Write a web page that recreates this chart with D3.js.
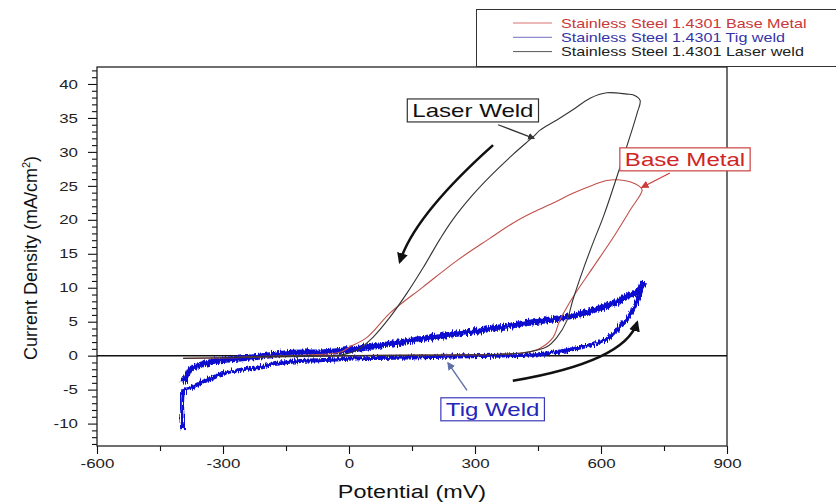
<!DOCTYPE html>
<html>
<head>
<meta charset="utf-8">
<script src="https://cdn.jsdelivr.net/npm/d3@7"></script>
<style>
body{margin:0;background:#fff}
svg{display:block}
text{font-family:"Liberation Sans",Arial,sans-serif}
</style>
</head>
<body>
<svg width="836" height="502"></svg>
<script>
// potential (mV) and current density (mA/cm2)
var laserE = [-395,-300,-200,-100,0,100,240,360,424,471,495,519,533,557,581,607,645,686,693,
              676,662,614,574,533,495,455,438,390,336,295,248,217,176,138,98,57,19,-21,-100,-200,-300,-395];
var laserI = [-0.4,-0.3,-0.2,-0.1,0,0.05,0.1,0.2,0.5,1.3,2.7,5.2,8.2,12.6,16.6,20.7,27.7,35.7,37.6,
              38.4,38.5,38.7,37.9,36.2,34.7,33.2,32.2,29.6,26.4,23.7,20.1,17.2,12.9,9.2,5.7,2.7,0.8,0.1,0,-0.1,-0.3,-0.4];

var baseE = [-395,-300,-200,0,200,360,424,455,486,502,533,581,629,669,698,
             690,669,640,614,580,533,490,438,390,336,257,176,98,43,2,-21,-100,-200,-300,-395];
var baseI = [-0.4,-0.35,-0.2,0,0.1,0.2,0.5,1.1,2.7,5.2,8.6,13.0,17.4,21.4,24.4,
             25.0,25.6,25.9,25.8,25.1,23.9,22.6,21.1,19.5,17.3,14.0,10.1,6.3,2.7,1.3,0.5,0.1,-0.1,-0.3,-0.4];

var tigFwdE = [-395,-395,-390,-379,-360,-338,-300,-219,-140,-62,50,200,350,450,502,543,581,621,652,676,693,700];
var tigFwdI = [-10.8,-5.3,-5.0,-4.8,-4.2,-3.6,-2.6,-1.7,-0.9,-0.65,-0.35,-0.2,0.0,0.2,0.6,1.1,1.7,2.7,4.8,6.7,9.2,10.8];

var tigRevE = [700,693,662,621,581,543,502,424,343,264,186,105,30,-60,-140,-220,-300,-355,-379,-387,-395];
var tigRevI = [10.8,9.8,8.7,7.5,6.7,6.0,5.5,4.8,4.0,3.3,2.6,1.8,1.1,0.5,0.4,-0.2,-0.65,-1.4,-2.1,-3.1,-4.0];

var xTicks = [-600,-300,0,300,600,900];
var xMinor = [-450,-150,150,450,750];
var yTicks = [-10,-5,0,5,10,15,20,25,30,35,40];

var legendLabels = ["Stainless Steel 1.4301 Base Metal","Stainless Steel 1.4301 Tig weld","Stainless Steel 1.4301 Laser weld"];
var legendColors = ["#c83838","#3535a8","#222"];
var legendLines = ["#d87070","#7070c0","#555"];

const SX = 1.3; // the figure is stretched horizontally

function stretch(sel, k) {
    sel.each(function(){
        var w = this.getComputedTextLength();
        this.setAttribute("textLength", w * k);
        this.setAttribute("lengthAdjust", "spacingAndGlyphs");
    });
}

window.onload = function() {
    var svg = d3.select("svg");
    var x = d3.scaleLinear().domain([-600,900]).range([97,727]);
    var y = d3.scaleLinear().domain([-13.3,42.5]).range([446,67]);

    var defs = svg.append("defs");
    var f = defs.append("filter").attr("id","noise").attr("filterUnits","userSpaceOnUse")
        .attr("x",80).attr("y",50).attr("width",700).attr("height",420);
    f.append("feTurbulence").attr("type","fractalNoise").attr("baseFrequency","1.3 0.08")
        .attr("numOctaves",2).attr("seed",4).attr("result","t");
    f.append("feDisplacementMap").attr("in","SourceGraphic").attr("in2","t")
        .attr("scale",7).attr("xChannelSelector","R").attr("yChannelSelector","G");

    function marker(id, color, w) {
        defs.append("marker").attr("id",id).attr("viewBox","0 0 10 10")
            .attr("refX",8).attr("refY",5).attr("markerWidth",w).attr("markerHeight",w)
            .attr("markerUnits","userSpaceOnUse").attr("orient","auto")
            .append("path").attr("d","M0,0L10,5L0,10z").attr("fill",color);
    }
    marker("ahBlack","#111",11);
    marker("ahGray","#333",7);
    marker("ahRed","#d03a3a",8);
    marker("ahBlue","#6070a8",8);

    var fmt = function(d){ return String(d); };

    // axes
    var xa = svg.append("g").attr("transform","translate(0,446)")
        .call(d3.axisBottom(x).tickValues(xTicks).tickFormat(fmt).tickSize(8).tickPadding(5).tickSizeOuter(0));
    svg.append("g").attr("transform","translate(0,446)")
        .call(d3.axisBottom(x).tickValues(xMinor).tickSize(5).tickFormat("").tickSizeOuter(0));
    var ya = svg.append("g").attr("transform","translate(97,0)")
        .call(d3.axisLeft(y).tickValues(yTicks).tickFormat(fmt).tickSize(9).tickPadding(10).tickSizeOuter(0));
    svg.append("g").attr("transform","translate(97,0)")
        .call(d3.axisLeft(y).tickValues(d3.range(-13,43).filter(function(v){return v%5!==0;}))
        .tickSize(5).tickFormat("").tickSizeOuter(0));
    svg.selectAll(".domain").remove();
    svg.selectAll(".tick line").attr("stroke","#111").attr("stroke-width",1.1);
    xa.selectAll("text").attr("font-size",13).attr("fill","#222");
    ya.selectAll("text").attr("font-size",13).attr("fill","#222");
    stretch(xa.selectAll("text"), SX);
    stretch(ya.selectAll("text"), SX);

    svg.append("rect").attr("x",97).attr("y",67).attr("width",630).attr("height",379)
        .attr("fill","none").attr("stroke","#222").attr("stroke-width",1.3);

    svg.append("line").attr("x1",x(-600)).attr("x2",x(900)).attr("y1",y(0)).attr("y2",y(0))
        .attr("stroke","#111").attr("stroke-width",1.5);

    var t1 = svg.append("text").attr("x",412).attr("y",498).attr("text-anchor","middle")
        .attr("font-size",18).attr("fill","#111").text("Potential (mV)");
    stretch(t1, SX);
    var yl = svg.append("text").attr("transform","translate(37,258) rotate(-90)")
        .attr("text-anchor","middle").attr("font-size",18).attr("fill","#111");
    yl.append("tspan").text("Current Density (mA/cm");
    yl.append("tspan").attr("font-size",11).attr("dy",-7).text("2");
    yl.append("tspan").attr("dy",7).text(")");

    var line = d3.line().x(function(d){return x(d[0]);}).y(function(d){return y(d[1]);})
        .curve(d3.curveCatmullRom.alpha(0.5));

    // Tig weld, noisy band
    svg.append("path").datum(d3.zip(tigRevE, tigRevI)).attr("d",line)
        .attr("fill","none").attr("stroke","#0b0bd0").attr("stroke-width",6)
        .attr("stroke-linejoin","round").attr("filter","url(#noise)");
    svg.append("path").datum(d3.zip(tigFwdE, tigFwdI)).attr("d",line)
        .attr("fill","none").attr("stroke","#0b0bd0").attr("stroke-width",4)
        .attr("stroke-linejoin","round").attr("filter","url(#noise)");

    svg.append("path").datum(d3.zip(baseE, baseI)).attr("d",line)
        .attr("fill","none").attr("stroke","#c0504a").attr("stroke-width",1.1);
    svg.append("path").datum(d3.zip(laserE, laserI)).attr("d",line)
        .attr("fill","none").attr("stroke","#333").attr("stroke-width",1.1);

    // legend
    var lg = svg.append("g");
    lg.append("rect").attr("x",476.5).attr("y",9.5).attr("width",370).attr("height",57)
        .attr("fill","#fff").attr("stroke","#333").attr("stroke-width",1);
    legendLabels.forEach(function(lab,i){
        var cy = 23 + i*14.3;
        lg.append("line").attr("x1",513).attr("x2",552).attr("y1",cy).attr("y2",cy)
            .attr("stroke",legendLines[i]).attr("stroke-width",1);
        var t = lg.append("text").attr("x",561).attr("y",cy+4.8).attr("font-size",13)
            .attr("fill",legendColors[i]).text(lab);
        stretch(t, 1.24);
    });

    // annotations
    function label(txt, E, I, color, border) {
        var t = svg.append("text").attr("x",x(E)).attr("y",y(I)).attr("dy","0.35em")
            .attr("text-anchor","middle").attr("font-size",18.5).attr("fill",color).text(txt);
        stretch(t, SX);
        var b = t.node().getBBox();
        svg.insert("rect", function(){return t.node();})
            .attr("x",b.x-5).attr("y",b.y-1).attr("width",b.width+10).attr("height",b.height+2)
            .attr("fill","#fff").attr("stroke",border).attr("stroke-width",1.2);
    }
    label("Laser Weld", 295, 36.1, "#111", "#333");
    label("Base Metal", 800, 28.9, "#d02525", "#d04040");
    label("Tig Weld", 342, -7.9, "#2525b8", "#3a3ab8");

    function arrow(E1,I1,E2,I2,color,w,m) {
        svg.append("line").attr("x1",x(E1)).attr("y1",y(I1)).attr("x2",x(E2)).attr("y2",y(I2))
            .attr("stroke",color).attr("stroke-width",w).attr("marker-end","url(#"+m+")");
    }
    arrow(355,34.0,440,32.0,"#333",1.2,"ahGray");
    arrow(764,26.9,698,24.8,"#d03a3a",1.2,"ahRed");
    arrow(281,-5.1,236,-1.1,"#6070a8",1.4,"ahBlue");

    function curved(E1,I1,Ec,Ic,E2,I2) {
        svg.append("path")
            .attr("d","M"+x(E1)+","+y(I1)+"Q"+x(Ec)+","+y(Ic)+" "+x(E2)+","+y(I2))
            .attr("fill","none").attr("stroke","#111").attr("stroke-width",2.6)
            .attr("marker-end","url(#ahBlack)");
    }
    curved(343,31.0,155,20.6,121,13.8);
    curved(390,-3.7,657,-0.9,686,4.9);
};
</script>
</body>
</html>
